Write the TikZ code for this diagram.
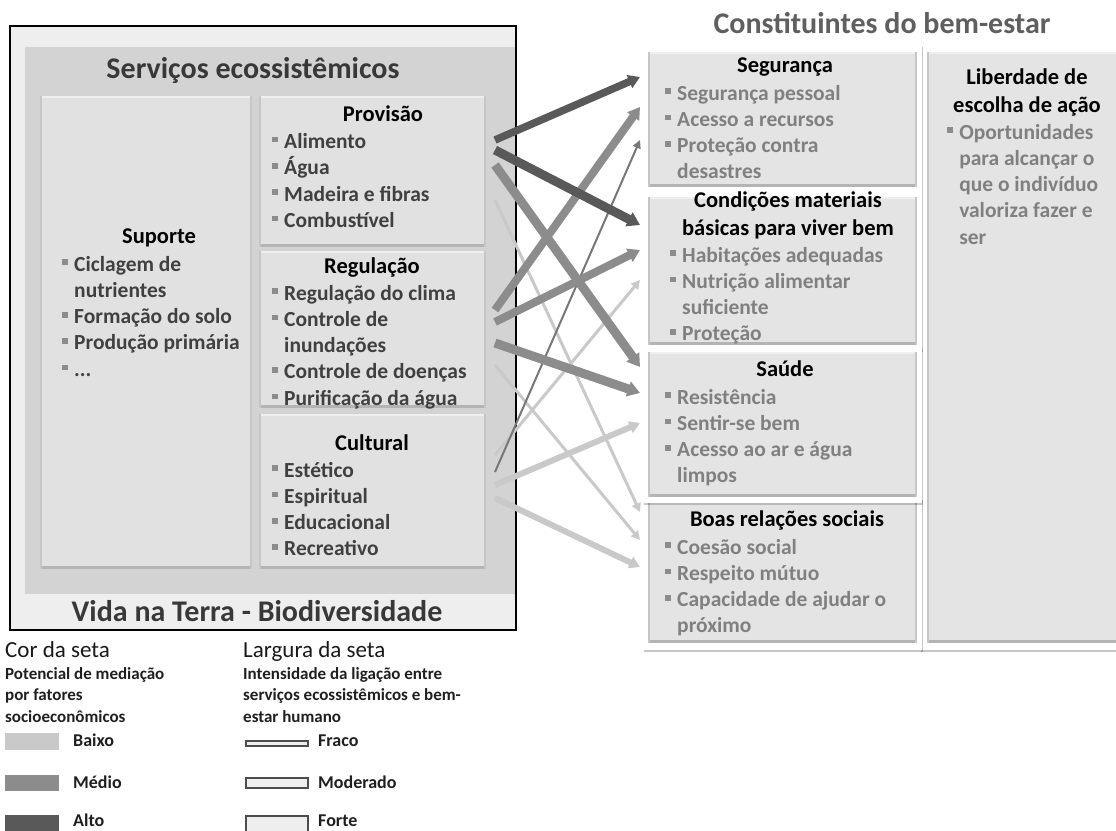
\documentclass[tikz,border=0pt]{standalone}
\usepackage{fontspec}
\setmainfont{Carlito}
\usetikzlibrary{arrows.meta,shadows}
\definecolor{clow}{HTML}{C9C9C9}
\definecolor{cmed}{HTML}{8C8C8C}
\definecolor{chigh}{HTML}{595959}
\definecolor{boxfill}{HTML}{E1E1E1}
\definecolor{rboxfill}{HTML}{E4E4E4}
\definecolor{innergray}{HTML}{D3D3D3}
\definecolor{outergray}{HTML}{EEEEEE}
\definecolor{itemL}{HTML}{404040}
\definecolor{itemR}{HTML}{808080}
\definecolor{bulc}{HTML}{8C8C8C}
\definecolor{bvdark}{HTML}{B4B4B4}
\definecolor{bvmid}{HTML}{C6C6C6}
\definecolor{bvlight}{HTML}{EFEFEF}
\definecolor{titgray}{HTML}{5F5F5F}
\definecolor{darktext}{HTML}{383838}
\newcommand\bl{\makebox[0.56em][l]{\textcolor{bulc}{\rule[0.28em]{0.26em}{0.26em}}}}
\newcommand\hg{\hspace*{0.56em}}
\begin{document}
\begin{tikzpicture}[x=1pt,y=-1pt,
  bevel/.style={rectangle, inner sep=0pt, outer sep=0pt, fill=#1, anchor=north west,
    path picture={
      \fill[bvdark] (path picture bounding box.south west) rectangle ([yshift=3pt]path picture bounding box.south east);
      \fill[bvmid] (path picture bounding box.south east) rectangle ([xshift=-2.5pt]path picture bounding box.north east);
      \fill[bvmid] (path picture bounding box.south west) rectangle ([xshift=2pt]path picture bounding box.north west);
      \fill[bvlight] ([xshift=2pt]path picture bounding box.north west) rectangle ([xshift=-2.5pt,yshift=-2pt]path picture bounding box.north east);
    }},
  frame/.style={rectangle, inner sep=0pt, outer sep=0pt, fill=white, anchor=north west,
    drop shadow={shadow xshift=1.2pt, shadow yshift=-1.5pt, opacity=0.22, fill=black}},
  plain/.style={rectangle, inner sep=0pt, outer sep=0pt, anchor=north west},
  bigtitle/.style={font=\bfseries\fontsize{30}{36}\selectfont, text=darktext, inner sep=0pt, anchor=base},
  btitle/.style={font=\bfseries\fontsize{22.5}{27.5}\selectfont, text=black, align=center, inner sep=0pt, anchor=base},
  litems/.style={font=\bfseries\fontsize{21.5}{26.3}\selectfont, text=itemL, align=left, inner sep=0pt, anchor=base west},
  ritems/.style={font=\bfseries\fontsize{21.5}{26.3}\selectfont, text=itemR, align=left, inner sep=0pt, anchor=base west},
  legh/.style={font=\fontsize{23}{27}\selectfont, text=black!90, inner sep=0pt, anchor=base west},
  legs/.style={font=\bfseries\fontsize{17}{21.5}\selectfont, text=black!88, align=left, inner sep=0pt, anchor=base west},
  legl/.style={font=\bfseries\fontsize{18}{22}\selectfont, text=black!88, inner sep=0pt, anchor=base west},
  wbar/.style={rectangle, inner sep=0pt, anchor=north west, fill=outergray, draw=black!70, line width=1.5pt, minimum width=62pt},
  link/.style={line width=#1, -{Triangle[length=7pt 0.6, width=6pt 1]}},
]
\useasboundingbox (0,0) rectangle (1116,830);
\fill[white] (0,0) rectangle (1116,830);

% ---------- left: ecosystem services ----------
\node[plain, fill=outergray, minimum width=506pt, minimum height=604pt] (life) at (10,26) {};
\node[plain, fill=innergray, minimum width=490pt, minimum height=547pt] (es) at (25,47) {};
\draw[black, line width=1.4pt] (life.north west) rectangle (life.south east);

\node[bevel=boxfill, minimum width=212pt, minimum height=473pt] (sup) at (40,96) {};
\node[bevel=boxfill, minimum width=227pt, minimum height=151pt] (prov) at (259,96) {};
\node[bevel=boxfill, minimum width=227pt, minimum height=157pt] (reg) at (259,251) {};
\node[bevel=boxfill, minimum width=227pt, minimum height=155pt] (cult) at (259,414) {};

\node[bigtitle] (estit) at (253,78) {Serviços ecossistêmicos};
\node[bigtitle] (vidatit) at (257,621) {Vida na Terra - Biodiversidade};

% (multi-line nodes are anchored at the baseline of their last line)
\node[btitle] (provT) at (383,121.5) {Provisão};
\node[litems] (provI) at (272,227.4) {\bl Alimento\\\bl Água\\\bl Madeira e fibras\\\bl Combustível};
\node[btitle] (regT) at (372,273.5) {Regulação};
\node[litems] (regI) at (272,405.2) {\bl Regulação do clima\\\bl Controle de\\\hg inundações\\\bl Controle de doenças\\\bl Purificação da água};
\node[btitle] (cultT) at (372,450.5) {Cultural};
\node[litems] (cultI) at (272,555.9) {\bl Estético\\\bl Espiritual\\\bl Educacional\\\bl Recreativo};
\node[btitle] (supT) at (159,243.5) {Suporte};
\node[litems] (supI) at (62,376.2) {\bl Ciclagem de\\\hg nutrientes\\\bl Formação do solo\\\bl Produção primária\\\bl ...};

% ---------- right: constituents of well-being ----------
\node[bigtitle, text=titgray] (bemT) at (882,33) {Constituintes do bem-estar};

\node[frame, minimum width=200pt, minimum height=605pt] (libF) at (920,45) {};
\node[bevel=rboxfill, minimum width=195pt, minimum height=591pt] (lib) at (927,52) {};
\node[frame, minimum width=279pt, minimum height=147pt] (segF) at (643,45) {};
\node[bevel=rboxfill, minimum width=269pt, minimum height=135pt] (seg) at (648,52) {};
\node[frame, minimum width=279pt, minimum height=158pt] (condF) at (643,192) {};
\node[bevel=rboxfill, minimum width=269pt, minimum height=148pt] (cond) at (648,197) {};
\node[frame, minimum width=279pt, minimum height=152pt] (boasF) at (643,498) {};
\node[bevel=rboxfill, minimum width=269pt, minimum height=140pt] (boas) at (648,503) {};
\node[frame, minimum width=279pt, minimum height=156pt] (saudeF) at (643,347) {};
\node[bevel=rboxfill, minimum width=269pt, minimum height=145pt] (saude) at (648,352) {};

\node[btitle] (segT) at (785,72.5) {Segurança};
\node[ritems] (segI) at (665,178.9) {\bl Segurança pessoal\\\bl Acesso a recursos\\\bl Proteção contra\\\hg desastres};
\node[btitle] (condT) at (788,235) {Condições materiais\\básicas para viver bem};
\node[ritems] (condI) at (670,340.9) {\bl Habitações adequadas\\\bl Nutrição alimentar\\\hg suficiente\\\bl Proteção};
\node[btitle] (saudeT) at (785,376.5) {Saúde};
\node[ritems] (saudeI) at (665,482.9) {\bl Resistência\\\bl Sentir-se bem\\\bl Acesso ao ar e água\\\hg limpos};
\node[btitle] (boasT) at (787,526.5) {Boas relações sociais};
\node[ritems] (boasI) at (665,632.9) {\bl Coesão social\\\bl Respeito mútuo\\\bl Capacidade de ajudar o\\\hg próximo};
\node[btitle] (libT) at (1027,112) {Liberdade de\\escolha de ação};
\node[ritems] (libI) at (947,244.2) {\bl Oportunidades\\\hg para alcançar o\\\hg que o indivíduo\\\hg valoriza fazer e\\\hg ser};

% ---------- links ----------
\coordinate (s1) at (495,140);  \coordinate (t1) at (640,77);
\coordinate (s2) at (495,150);  \coordinate (t2) at (640,225);
\coordinate (s3) at (495,310);  \coordinate (t3) at (640,107);
\coordinate (s4) at (495,472);  \coordinate (t4) at (640,140);
\coordinate (s5) at (495,322);  \coordinate (t5) at (640,250);
\coordinate (s6) at (495,455);  \coordinate (t6) at (640,280);
\coordinate (s7) at (495,165);  \coordinate (t7) at (640,367);
\coordinate (s8) at (495,343);  \coordinate (t8) at (640,393);
\coordinate (s9) at (495,485);  \coordinate (t9) at (640,423);
\coordinate (s10) at (495,200); \coordinate (t10) at (640,512);
\coordinate (s11) at (495,365); \coordinate (t11) at (640,540);
\coordinate (s12) at (495,498); \coordinate (t12) at (640,567);

\draw[link=3pt, clow] (s10) -- (t10);
\draw[link=3pt, clow] (s11) -- (t11);
\draw[link=3pt, clow] (s6) -- (t6);
\draw[link=6pt, clow] (s9) -- (t9);
\draw[link=6pt, clow] (s12) -- (t12);
\draw[link=2pt, cmed!85!black] (s4) -- (t4);
\draw[link=8pt, cmed] (s3) -- (t3);
\draw[link=8pt, cmed] (s5) -- (t5);
\draw[link=9pt, cmed] (s7) -- (t7);
\draw[link=9pt, cmed] (s8) -- (t8);
\draw[link=7.5pt, chigh] (s1) -- (t1);
\draw[link=9pt, chigh] (s2) -- (t2);

% ---------- legend ----------
\node[legh] (corT) at (5,657) {Cor da seta};
\node[legs] (corS) at (5,722) {Potencial de mediação\\por fatores\\socioeconômicos};
\node[legh] (largT) at (243,657) {Largura da seta};
\node[legs] (largS) at (243,722) {Intensidade da ligação entre\\serviços ecossistêmicos e bem-\\estar humano};

\node[plain, fill=clow, minimum width=54pt, minimum height=17pt] (sw1) at (5,733) {};
\node[plain, fill=cmed, minimum width=54pt, minimum height=16pt] (sw2) at (5,775) {};
\node[plain, fill=chigh, minimum width=54pt, minimum height=18pt] (sw3) at (5,815) {};
\node[legl] (lb1) at (73,746) {Baixo};
\node[legl] (lb2) at (73,788) {Médio};
\node[legl] (lb3) at (73,826) {Alto};

\node[wbar, minimum height=5pt] (wb1) at (245,740) {};
\node[wbar, minimum height=10pt] (wb2) at (245,777) {};
\node[wbar, minimum height=20pt] (wb3) at (245,815) {};
\node[legl] (lw1) at (318,746) {Fraco};
\node[legl] (lw2) at (318,788) {Moderado};
\node[legl] (lw3) at (318,826) {Forte};
\end{tikzpicture}
\end{document}
